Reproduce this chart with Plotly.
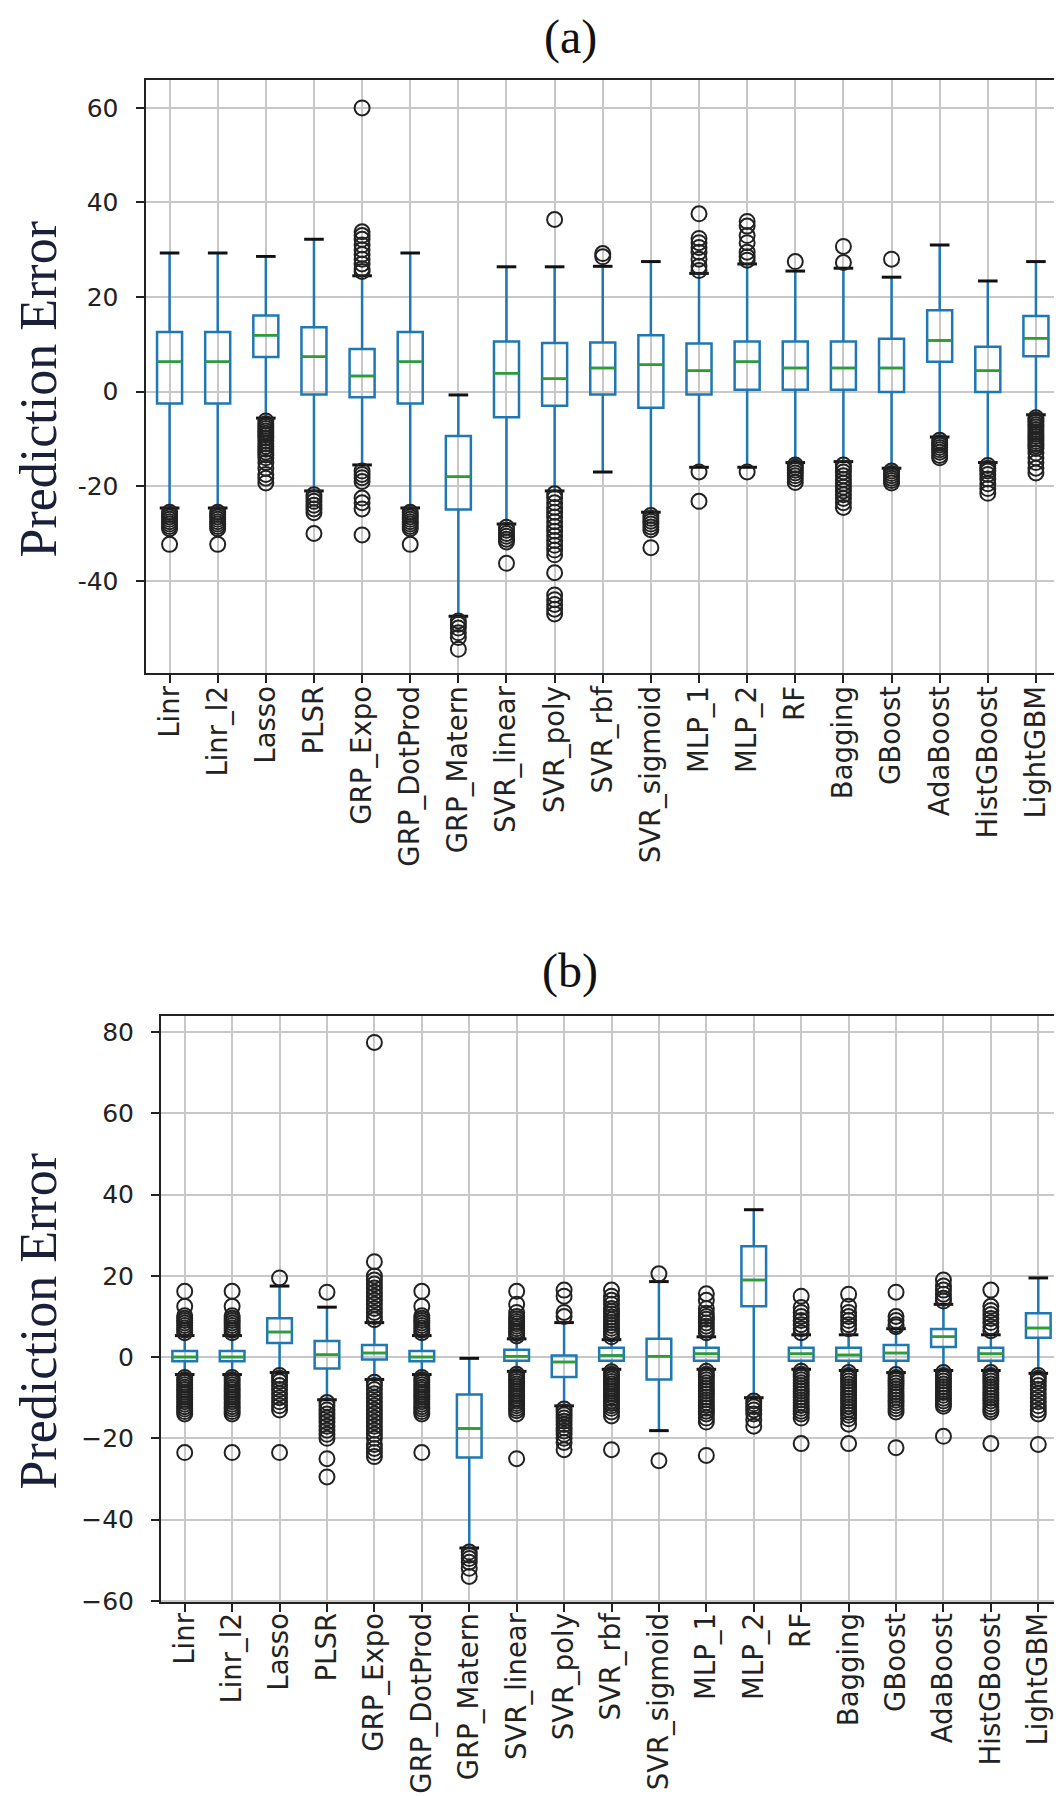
import plotly.graph_objects as go

names = ["Linr", "Linr_l2", "Lasso", "PLSR", "GRP_Expo", "GRP_DotProd", "GRP_Matern",
         "SVR_linear", "SVR_poly", "SVR_rbf", "SVR_sigmoid", "MLP_1", "MLP_2", "RF",
         "Bagging", "GBoost", "AdaBoost", "HistGBoost", "LightGBM"]

# ---------------- panel (a) ----------------
a_lo = [-24.6, -24.6, -5.6, -21.0, -15.5, -24.6, -47.5, -28.0, -21.0, -17.0, -25.5,
        -16.0, -16.0, -15.0, -14.8, -16.2, -9.6, -15.0, -4.9]
a_q1 = [-2.5, -2.5, 7.3, -0.6, -1.2, -2.5, -24.9, -5.4, -3.0, -0.6, -3.4,
        -0.6, 0.4, 0.4, 0.4, -0.1, 6.3, -0.1, 7.5]
a_med = [6.3, 6.3, 11.9, 7.4, 3.3, 6.3, -18.0, 3.9, 2.7, 5.0, 5.7,
         4.4, 6.3, 5.0, 5.0, 5.0, 10.8, 4.4, 11.3]
a_q3 = [12.6, 12.6, 16.1, 13.6, 9.0, 12.6, -9.4, 10.6, 10.3, 10.4, 11.9,
        10.2, 10.6, 10.6, 10.6, 11.2, 17.2, 9.5, 16.0]
a_hi = [29.3, 29.3, 28.6, 32.2, 24.5, 29.3, -0.7, 26.4, 26.4, 26.5, 27.5,
        25.0, 27.0, 25.5, 26.1, 24.2, 31.0, 23.4, 27.5]
a_out = [
    [-25.5, -26.0, -26.5, -27.0, -27.5, -28.0, -28.5, -29.0, -32.3],
    [-25.5, -26.0, -26.5, -27.0, -27.5, -28.0, -28.5, -29.0, -32.3],
    [-6.2, -6.8, -7.3, -7.8, -8.3, -8.8, -9.3, -9.8, -10.4, -11.0, -11.6, -12.2, -12.8,
     -13.4, -14.0, -15.0, -16.2, -17.5, -18.3, -19.3],
    [-21.8, -22.5, -23.2, -24.0, -24.8, -25.6, -30.0],
    [60.0, 33.8, 33.0, 32.2, 31.0, 30.0, 29.0, 28.0, 27.0, 26.0, 25.4,
     -16.8, -17.5, -18.2, -19.0, -22.5, -23.5, -24.8, -30.3],
    [-25.5, -26.0, -26.5, -27.0, -27.5, -28.0, -28.5, -29.0, -32.3],
    [-48.5, -49.2, -50.0, -51.0, -52.0, -54.5],
    [-28.7, -29.3, -30.0, -30.6, -31.2, -31.8, -36.3],
    [36.4, -21.6, -22.5, -23.5, -24.5, -25.5, -26.5, -27.5, -28.5, -29.5, -30.5, -31.5,
     -32.5, -33.5, -34.5, -38.3, -43.0, -44.0, -45.0, -46.0, -47.0],
    [28.5, 29.2],
    [-26.2, -26.8, -27.4, -28.0, -28.6, -29.2, -33.0],
    [37.6, 32.4, 31.5, 30.5, 29.5, 28.0, 26.5, 25.6, -17.0, -23.2],
    [36.0, 35.0, 33.0, 31.5, 29.5, 28.5, 27.8, -17.0],
    [27.5, -15.5, -16.0, -16.6, -17.2, -17.8, -18.4, -19.2],
    [30.7, 27.3, -15.5, -16.2, -17.0, -17.8, -18.6, -19.4, -20.2, -21.0, -21.8, -22.6,
     -23.5, -24.5],
    [28.0, -16.8, -17.3, -17.8, -18.3, -18.8, -19.3],
    [-10.3, -10.8, -11.3, -11.8, -12.3, -12.8, -13.5, -14.0],
    [-15.6, -16.2, -16.8, -17.5, -18.5, -19.5, -20.5, -21.5],
    [-5.5, -6.0, -6.5, -7.0, -7.5, -8.0, -8.5, -9.0, -9.5, -10.0, -10.5, -11.0, -11.5,
     -12.0, -13.0, -14.0, -15.0, -16.2, -17.2],
]
a_ticks = [-40, -20, 0, 20, 40, 60]
a_ticktext = ["-40", "-20", "0", "20", "40", "60"]

# ---------------- panel (b) ----------------
b_lo = [-4.3, -4.3, -3.8, -10.5, -5.5, -4.3, -47.0, -3.5, -12.0, -3.0, -18.1,
        -3.0, -10.0, -3.0, -3.3, -3.8, -3.3, -3.3, -4.0]
b_q1 = [-1.0, -1.0, 3.5, -2.8, -0.6, -1.0, -24.7, -0.9, -4.9, -0.9, -5.5,
        -0.9, 12.5, -0.9, -0.9, -0.9, 2.5, -0.9, 4.8]
b_med = [0.0, 0.0, 6.2, 0.6, 1.0, 0.0, -17.6, 0.2, -1.2, 0.4, 0.2,
         0.8, 19.0, 0.8, 0.5, 1.0, 5.0, 0.8, 7.2]
b_q3 = [1.5, 1.5, 9.6, 4.0, 3.0, 1.5, -9.2, 1.8, 0.4, 2.3, 4.5,
        2.3, 27.3, 2.3, 2.3, 3.0, 6.9, 2.3, 10.8]
b_hi = [5.3, 5.3, 17.5, 12.3, 8.5, 5.3, -0.3, 4.5, 8.5, 4.3, 18.6,
        5.0, 36.3, 5.5, 5.5, 7.0, 13.0, 5.5, 19.5]
b_out = [
    [6.0, 6.6, 7.2, 7.8, 8.4, 9.0, 9.6, 10.2, 12.5, 16.2,
     -5.0, -5.6, -6.2, -6.8, -7.4, -8.0, -8.6, -9.2, -9.8, -10.4, -11.0, -11.6, -12.2,
     -12.8, -13.4, -14.0, -23.5],
    [6.0, 6.6, 7.2, 7.8, 8.4, 9.0, 9.6, 10.2, 12.5, 16.2,
     -5.0, -5.6, -6.2, -6.8, -7.4, -8.0, -8.6, -9.2, -9.8, -10.4, -11.0, -11.6, -12.2,
     -12.8, -13.4, -14.0, -23.5],
    [19.5, -4.5, -5.2, -6.0, -7.0, -8.0, -9.0, -10.0, -11.0, -12.0, -13.0, -23.5],
    [16.0, -11.2, -12.0, -13.0, -14.0, -15.0, -16.0, -17.0, -18.0, -19.0, -20.0,
     -25.0, -29.5],
    [77.5, 23.5, 20.0, 19.0, 18.0, 17.0, 16.0, 15.0, 14.0, 13.0, 12.0, 11.0, 10.0, 9.2,
     -6.2, -7.0, -8.0, -9.0, -10.0, -11.0, -12.0, -13.0, -14.0, -15.0, -16.0, -17.0,
     -18.0, -19.0, -20.0, -21.5, -22.5, -23.5, -24.5],
    [6.0, 6.6, 7.2, 7.8, 8.4, 9.0, 9.6, 10.2, 12.5, 16.2,
     -5.0, -5.6, -6.2, -6.8, -7.4, -8.0, -8.6, -9.2, -9.8, -10.4, -11.0, -11.6, -12.2,
     -12.8, -13.4, -14.0, -23.5],
    [-48.0, -48.8, -49.6, -50.5, -52.0, -54.0],
    [5.2, 5.8, 6.4, 7.0, 7.6, 8.2, 8.8, 9.4, 10.0, 11.0, 13.0, 16.2,
     -4.2, -4.8, -5.4, -6.0, -6.6, -7.2, -7.8, -8.4, -9.0, -9.6, -10.2, -10.8, -11.4,
     -12.0, -12.6, -13.2, -14.0, -25.0],
    [10.0, 11.0, 15.0, 16.5,
     -12.8, -13.5, -14.2, -15.0, -15.8, -16.6, -17.4, -18.2, -19.0, -20.0, -21.0, -22.8],
    [5.0, 5.7, 6.4, 7.1, 7.8, 8.5, 9.2, 9.9, 10.6, 11.3, 12.0, 13.0, 14.0, 15.0, 16.5,
     -3.6, -4.2, -4.8, -5.4, -6.0, -6.6, -7.2, -7.8, -8.4, -9.0, -9.6, -10.2, -10.8,
     -11.4, -12.0, -12.6, -13.5, -14.5, -22.8],
    [20.5, -25.5],
    [6.0, 6.8, 7.6, 8.4, 9.3, 10.0, 10.8, 12.0, 14.0, 15.6,
     -3.5, -4.2, -4.9, -5.6, -6.3, -7.0, -7.7, -8.4, -9.1, -9.8, -10.5, -11.2, -11.9,
     -12.6, -13.3, -14.0, -15.0, -16.0, -24.2],
    [-10.8, -11.5, -12.2, -13.0, -14.0, -15.5, -17.0],
    [6.0, 7.0, 8.0, 9.0, 10.0, 11.0, 12.2, 15.0,
     -3.5, -4.2, -4.9, -5.6, -6.3, -7.0, -7.7, -8.4, -9.1, -9.8, -10.5, -11.2, -11.9,
     -12.6, -13.3, -14.0, -15.0, -21.3],
    [7.0, 8.0, 9.0, 10.0, 11.0, 12.5, 15.5,
     -3.8, -4.5, -5.2, -5.9, -6.6, -7.3, -8.0, -8.7, -9.4, -10.1, -10.8, -11.5, -12.2,
     -12.9, -13.6, -14.3, -15.2, -16.5, -21.3],
    [7.5, 8.0, 9.0, 10.0, 16.0,
     -4.3, -5.0, -5.7, -6.4, -7.1, -7.8, -8.5, -9.2, -9.9, -10.6, -11.3, -12.0, -12.7,
     -13.5, -22.3],
    [13.8, 14.5, 15.5, 16.5, 17.5, 19.0,
     -3.8, -4.5, -5.2, -5.9, -6.6, -7.3, -8.0, -8.7, -9.4, -10.1, -10.8, -11.5, -12.1,
     -19.5],
    [6.5, 7.5, 8.5, 9.5, 10.5, 11.5, 12.5, 16.5,
     -3.8, -4.5, -5.2, -5.9, -6.6, -7.3, -8.0, -8.7, -9.4, -10.1, -10.8, -11.5, -12.2,
     -12.9, -13.5, -21.3],
    [-4.5, -5.2, -6.0, -7.0, -8.0, -9.0, -10.0, -11.0, -12.0, -13.0, -14.0, -21.5],
]
b_ticks = [-60, -40, -20, 0, 20, 40, 60, 80]
b_ticktext = ["\u221260", "\u221240", "\u221220", "0", "20", "40", "60", "80"]

BLUE = "#1f77b4"
GREEN = "#2ca02c"
BOX_W = 0.52

fig = go.Figure()


def add_panel(xa, ya, lo, q1, med, q3, hi, outs):
    pos = list(range(len(names)))
    fig.add_trace(go.Box(
        x=pos, q1=q1, median=med, q3=q3, lowerfence=lo, upperfence=hi,
        width=BOX_W, whiskerwidth=0, boxpoints=False,
        line=dict(color=BLUE, width=2.5), fillcolor="rgba(255,255,255,0)",
        xaxis=xa, yaxis=ya, showlegend=False, hoverinfo="skip"))
    fig.add_trace(go.Box(
        x=pos, q1=med, median=med, q3=med, lowerfence=med, upperfence=med,
        width=BOX_W, whiskerwidth=0, boxpoints=False,
        line=dict(color=GREEN, width=2.5), fillcolor="rgba(255,255,255,0)",
        xaxis=xa, yaxis=ya, showlegend=False, hoverinfo="skip"))
    fig.add_trace(go.Scatter(
        x=pos + pos, y=list(lo) + list(hi), mode="markers",
        marker=dict(symbol="line-ew", size=14, line=dict(color="#111111", width=3)),
        xaxis=xa, yaxis=ya, showlegend=False, hoverinfo="skip"))
    ox, oy = [], []
    for i, vals in enumerate(outs):
        ox += [i] * len(vals)
        oy += vals
    fig.add_trace(go.Scatter(
        x=ox, y=oy, mode="markers",
        marker=dict(symbol="circle-open", size=15, color="#222222",
                    line=dict(color="#222222", width=2)),
        xaxis=xa, yaxis=ya, showlegend=False, hoverinfo="skip"))


add_panel("x", "y", a_lo, a_q1, a_med, a_q3, a_hi, a_out)
add_panel("x2", "y2", b_lo, b_q1, b_med, b_q3, b_hi, b_out)

axis_common = dict(showgrid=True, gridcolor="#c8c8c8", gridwidth=2,
                   showline=True, linecolor="#222222", linewidth=2, mirror=True,
                   ticks="outside", ticklen=8, tickwidth=2, tickcolor="#222222",
                   zeroline=False, automargin=False)
xfont = dict(family="DejaVu Sans", size=27.5, color="#222222")
yfont = dict(family="DejaVu Sans", size=25, color="#222222")

H = 1796.0
W = 1062.0
fig.update_layout(
    width=1062, height=1796, autosize=False,
    margin=dict(l=0, r=0, t=0, b=0),
    paper_bgcolor="white", plot_bgcolor="white",
    boxmode="overlay", showlegend=False,
    xaxis=dict(domain=[137.5 / W, 1052 / W], range=[-0.5, 18.5],
               tickvals=list(range(len(names))), ticktext=names, tickangle=-90,
               tickfont=xfont, ticklabelstandoff=-8, anchor="y", **axis_common),
    yaxis=dict(domain=[1 - 665 / H, 1 - 72 / H], range=[-59.5, 65.9],
               tickvals=a_ticks, ticktext=a_ticktext, tickfont=yfont,
               ticklabelstandoff=12, anchor="x", **axis_common),
    xaxis2=dict(domain=[153 / W, 1054 / W], range=[-0.5, 18.5],
                tickvals=list(range(len(names))), ticktext=names, tickangle=-90,
                tickfont=xfont, ticklabelstandoff=-10, anchor="y2", **axis_common),
    yaxis2=dict(domain=[1 - 1594 / H, 1 - 1008 / H], range=[-60.3, 84.0],
                tickvals=b_ticks, ticktext=b_ticktext, tickfont=yfont,
                ticklabelstandoff=12, anchor="x2", **axis_common),
)

serif = dict(family="Liberation Serif", size=48, color="#111111")
ytitle = dict(family="Liberation Serif", size=52, color="#1a1f3a")
fig.add_annotation(text="(a)", x=562 / W, y=1.0, xref="paper", yref="paper",
                   showarrow=False, font=serif, xanchor="center", yanchor="top")
fig.add_annotation(text="(b)", x=562 / W, y=1 - 934 / H, xref="paper", yref="paper",
                   showarrow=False, font=serif, xanchor="center", yanchor="top")
fig.add_annotation(text="Prediction Error", x=0, y=1 - 382 / H, xref="paper",
                   yref="paper", showarrow=False, font=ytitle, textangle=-90,
                   xanchor="left", yanchor="middle", borderpad=0)
fig.add_annotation(text="Prediction Error", x=0, y=1 - 1314 / H, xref="paper",
                   yref="paper", showarrow=False, font=ytitle, textangle=-90,
                   xanchor="left", yanchor="middle", borderpad=0)

fig.write_html("out.html")
